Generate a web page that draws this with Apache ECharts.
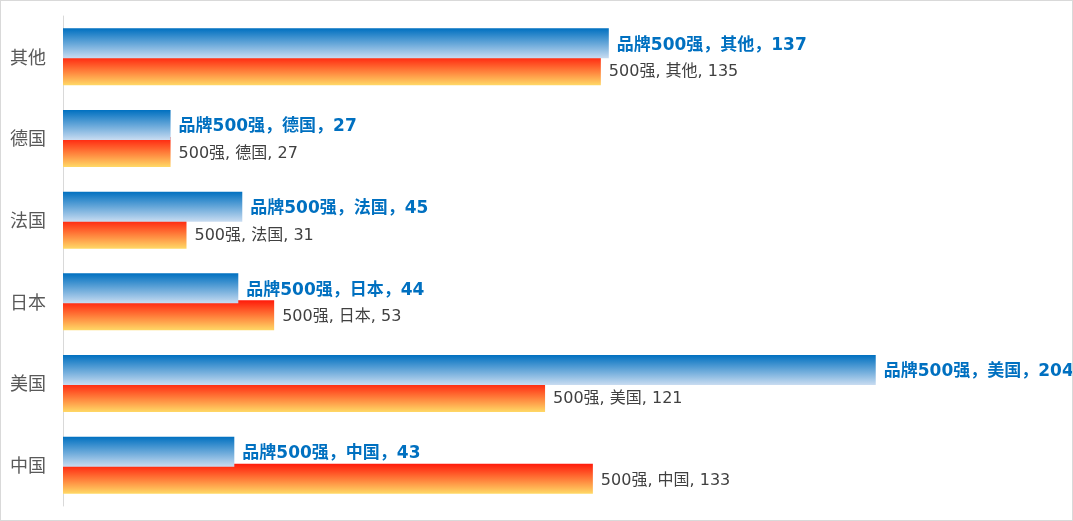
<!DOCTYPE html>
<html style="height:100%;">
<head>
    <meta charset="utf-8">
    <script src="https://cdn.jsdelivr.net/npm/echarts@6/dist/echarts.min.js"></script>
</head>
<body style="height:100%;margin:0;">
    <div id="main" style="width:1073px;height:521px;box-sizing:border-box;border:1px solid #d9d9d9;"></div>
<script>
    // 类目（从下到上）
    var countries = ['中国', '美国', '日本', '法国', '德国', '其他'];
    // 品牌500强
    var brandValues = [43, 204, 44, 45, 27, 137];
    // 500强
    var fortuneValues = [133, 121, 53, 31, 27, 135];

    var fontFamily = '"DejaVu Sans", "Noto Sans CJK SC", sans-serif';

    var chart = echarts.init(document.getElementById('main'));
    var option = {
        backgroundColor: '#FFFFFF',
        animation: false,
        grid: {
            left: 62,
            right: 13,
            top: 15,
            bottom: 14
        },
        xAxis: {
            type: 'value',
            min: 0,
            max: 250,
            show: false
        },
        yAxis: {
            type: 'category',
            data: countries,
            axisLine: { lineStyle: { color: '#d9d9d9' } },
            axisTick: { show: false },
            axisLabel: {
                color: '#595959',
                fontSize: 18,
                fontFamily: '"Noto Sans CJK SC", sans-serif',
                margin: 17
            }
        },
        series: [{
            // 蓝色在上，画在红色之上
            name: '品牌500强',
            type: 'bar',
            data: brandValues,
            barWidth: 30,
            barGap: '-10%',
            z: 3,
            itemStyle: {
                color: new echarts.graphic.LinearGradient(0, 0, 0, 1, [
                    { offset: 0, color: '#0070C0' },
                    { offset: 1, color: '#C9DCF1' }
                ])
            },
            label: {
                show: true,
                position: 'right',
                distance: 8,
                offset: [0, 2],
                color: '#0070C0',
                fontSize: 17,
                fontWeight: 'bold',
                fontFamily: fontFamily,
                formatter: function (p) {
                    return '品牌500强，' + p.name + '，' + p.value;
                }
            }
        }, {
            name: '500强',
            type: 'bar',
            data: fortuneValues,
            barWidth: 30,
            z: 2,
            itemStyle: {
                color: new echarts.graphic.LinearGradient(0, 0, 0, 1, [
                    { offset: 0, color: '#FF1A0A' },
                    { offset: 1, color: '#FFD966' }
                ])
            },
            label: {
                show: true,
                position: 'right',
                distance: 8,
                offset: [0, 2],
                color: '#404040',
                fontSize: 16,
                fontFamily: fontFamily,
                formatter: function (p) {
                    return '500强, ' + p.name + ', ' + p.value;
                }
            }
        }]
    };
    chart.setOption(option);
</script>
</body>
</html>
